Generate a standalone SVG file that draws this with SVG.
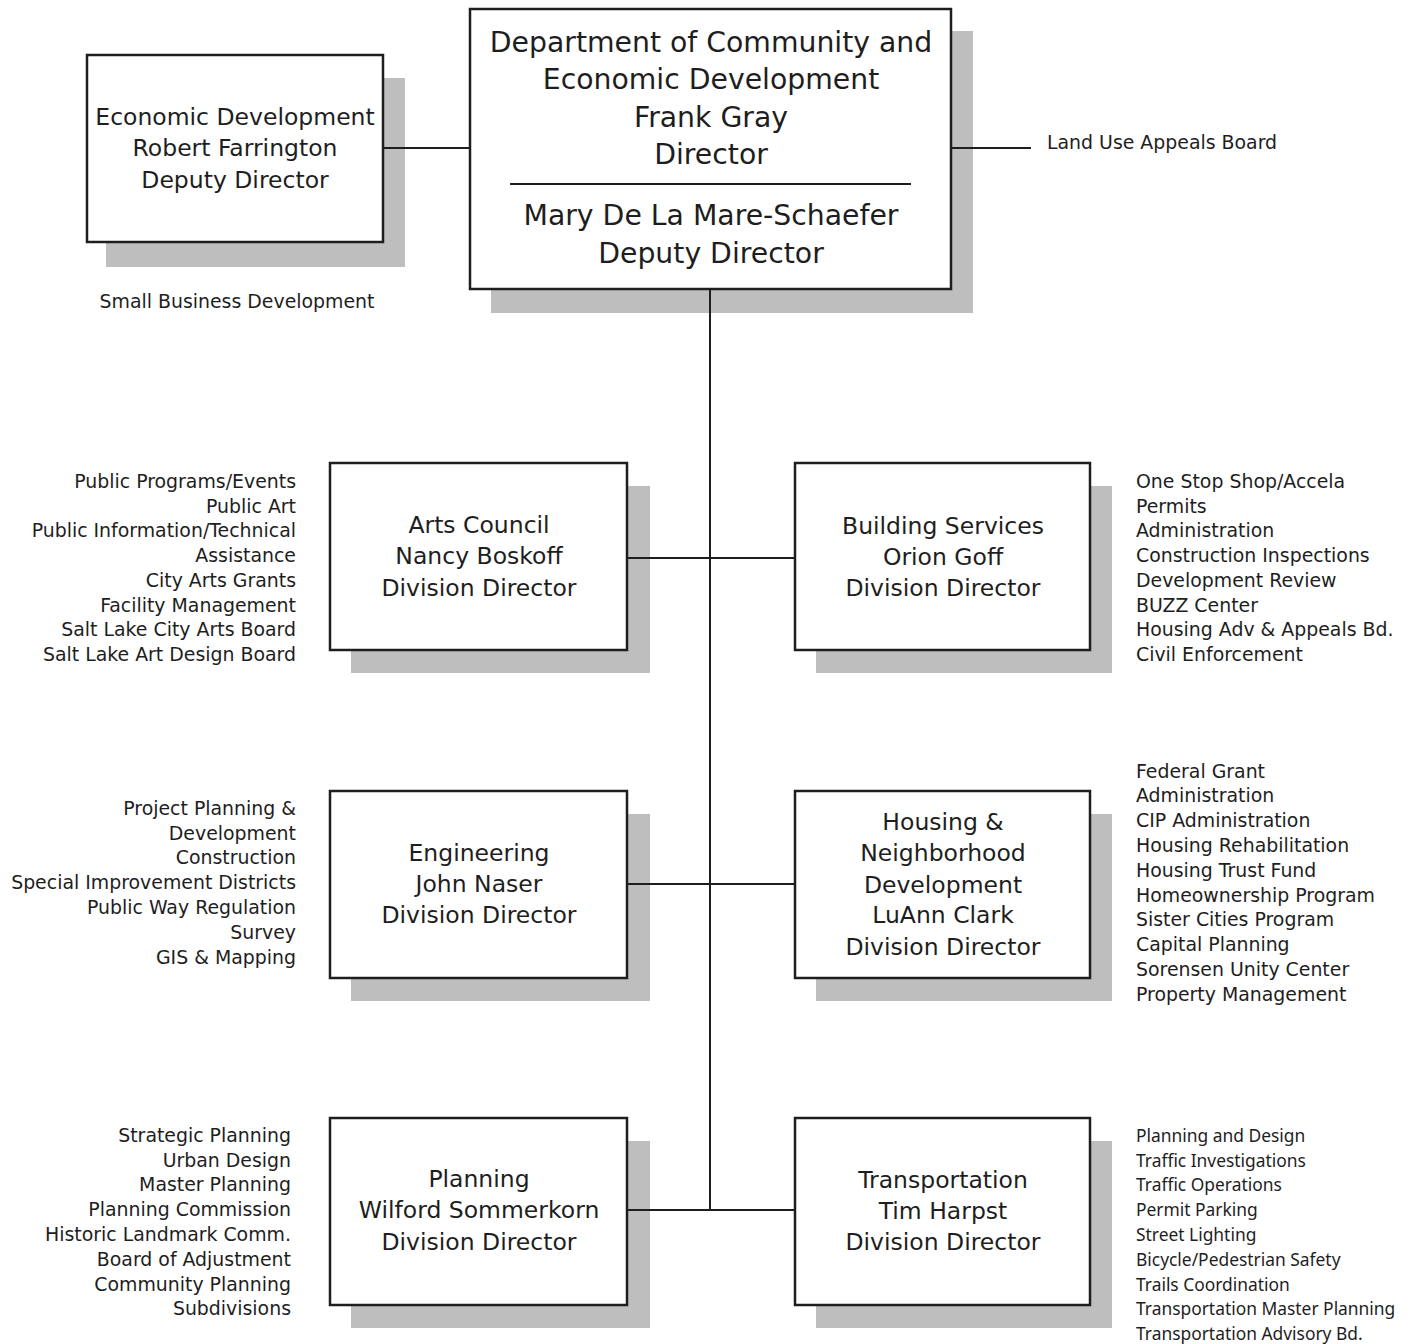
<svg xmlns="http://www.w3.org/2000/svg" width="1413" height="1344" viewBox="0 0 1413 1344">
  <style>
    .shadow { fill: #bebebe; }
    .box { fill: #ffffff; stroke: #1e1e1e; stroke-width: 2.5; }
    .link { stroke: #1e1e1e; stroke-width: 2; fill: none; }
    .title { font-family: "DejaVu Sans", Verdana, sans-serif; font-size: 23.5px; fill: #1e1e1e; text-anchor: middle; }
    .big { font-size: 28.3px; }
    .item { font-family: "DejaVu Sans", Verdana, sans-serif; font-size: 18.9px; fill: #1e1e1e; }
    .narrow { font-family: "Noto Sans", "DejaVu Sans", sans-serif; font-size: 17.4px; }
    .r { text-anchor: end; }
  </style>
  <rect width="1413" height="1344" fill="#ffffff"/>

  <!-- department head -->
  <g id="director">
    <rect class="shadow" x="491" y="31" width="482" height="282"/>
    <rect class="box" x="470" y="9" width="481" height="280"/>
    <line class="link" x1="510" y1="184" x2="911" y2="184" stroke-width="1.5"/>
    <text class="title big" x="711" y="52">Department of Community and</text>
    <text class="title big" x="711" y="89">Economic Development</text>
    <text class="title big" x="711" y="127">Frank Gray</text>
    <text class="title big" x="711" y="164">Director</text>
    <text class="title big" x="711" y="225">Mary De La Mare-Schaefer</text>
    <text class="title big" x="711" y="263">Deputy Director</text>
  </g>

  <!-- economic development -->
  <g id="economic-development">
    <rect class="shadow" x="106" y="78" width="299" height="189"/>
    <rect class="box" x="87" y="55" width="296" height="187"/>
    <text class="title" x="235" y="125">Economic Development</text>
    <text class="title" x="235" y="156">Robert Farrington</text>
    <text class="title" x="235" y="188">Deputy Director</text>
    <text class="item" x="237" y="308" text-anchor="middle">Small Business Development</text>
  </g>

  <g id="land-use-appeals">
    <text class="item" x="1047" y="149">Land Use Appeals Board</text>
  </g>

  <!-- arts council -->
  <g id="arts-council">
    <rect class="shadow" x="351" y="486" width="299" height="187"/>
    <rect class="box" x="330" y="463" width="297" height="187"/>
    <text class="title" x="479" y="533">Arts Council</text>
    <text class="title" x="479" y="564">Nancy Boskoff</text>
    <text class="title" x="479" y="596">Division Director</text>
    <g class="item r">
      <text x="296" y="488">Public Programs/Events</text>
      <text x="296" y="513">Public Art</text>
      <text x="296" y="537">Public Information/Technical</text>
      <text x="296" y="562">Assistance</text>
      <text x="296" y="587">City Arts Grants</text>
      <text x="296" y="612">Facility Management</text>
      <text x="296" y="636">Salt Lake City Arts Board</text>
      <text x="296" y="661">Salt Lake Art Design Board</text>
    </g>
  </g>

  <!-- building services -->
  <g id="building-services">
    <rect class="shadow" x="816" y="486" width="296" height="187"/>
    <rect class="box" x="795" y="463" width="295" height="187"/>
    <text class="title" x="943" y="534">Building Services</text>
    <text class="title" x="943" y="565">Orion Goff</text>
    <text class="title" x="943" y="596">Division Director</text>
    <g class="item">
      <text x="1136" y="488">One Stop Shop/Accela</text>
      <text x="1136" y="513">Permits</text>
      <text x="1136" y="537">Administration</text>
      <text x="1136" y="562">Construction Inspections</text>
      <text x="1136" y="587">Development Review</text>
      <text x="1136" y="612">BUZZ Center</text>
      <text x="1136" y="636">Housing Adv &amp; Appeals Bd.</text>
      <text x="1136" y="661">Civil Enforcement</text>
    </g>
  </g>

  <!-- engineering -->
  <g id="engineering">
    <rect class="shadow" x="351" y="814" width="299" height="187"/>
    <rect class="box" x="330" y="791" width="297" height="187"/>
    <text class="title" x="479" y="861">Engineering</text>
    <text class="title" x="479" y="892">John Naser</text>
    <text class="title" x="479" y="923">Division Director</text>
    <g class="item r">
      <text x="296" y="815">Project Planning &amp;</text>
      <text x="296" y="840">Development</text>
      <text x="296" y="864">Construction</text>
      <text x="296" y="889">Special Improvement Districts</text>
      <text x="296" y="914">Public Way Regulation</text>
      <text x="296" y="939">Survey</text>
      <text x="296" y="964">GIS &amp; Mapping</text>
    </g>
  </g>

  <!-- housing and neighborhood development -->
  <g id="housing">
    <rect class="shadow" x="816" y="814" width="296" height="187"/>
    <rect class="box" x="795" y="791" width="295" height="187"/>
    <text class="title" x="943" y="830">Housing &amp;</text>
    <text class="title" x="943" y="861">Neighborhood</text>
    <text class="title" x="943" y="893">Development</text>
    <text class="title" x="943" y="923">LuAnn Clark</text>
    <text class="title" x="943" y="955">Division Director</text>
    <g class="item">
      <text x="1136" y="778">Federal Grant</text>
      <text x="1136" y="802">Administration</text>
      <text x="1136" y="827">CIP Administration</text>
      <text x="1136" y="852">Housing Rehabilitation</text>
      <text x="1136" y="877">Housing Trust Fund</text>
      <text x="1136" y="902">Homeownership Program</text>
      <text x="1136" y="926">Sister Cities Program</text>
      <text x="1136" y="951">Capital Planning</text>
      <text x="1136" y="976">Sorensen Unity Center</text>
      <text x="1136" y="1001">Property Management</text>
    </g>
  </g>

  <!-- planning -->
  <g id="planning">
    <rect class="shadow" x="351" y="1141" width="299" height="187"/>
    <rect class="box" x="330" y="1118" width="297" height="187"/>
    <text class="title" x="479" y="1187">Planning</text>
    <text class="title" x="479" y="1218">Wilford Sommerkorn</text>
    <text class="title" x="479" y="1250">Division Director</text>
    <g class="item r">
      <text x="291" y="1142">Strategic Planning</text>
      <text x="291" y="1167">Urban Design</text>
      <text x="291" y="1191">Master Planning</text>
      <text x="291" y="1216">Planning Commission</text>
      <text x="291" y="1241">Historic Landmark Comm.</text>
      <text x="291" y="1266">Board of Adjustment</text>
      <text x="291" y="1291">Community Planning</text>
      <text x="291" y="1315">Subdivisions</text>
    </g>
  </g>

  <!-- transportation -->
  <g id="transportation">
    <rect class="shadow" x="816" y="1141" width="296" height="187"/>
    <rect class="box" x="795" y="1118" width="295" height="187"/>
    <text class="title" x="943" y="1188">Transportation</text>
    <text class="title" x="943" y="1219">Tim Harpst</text>
    <text class="title" x="943" y="1250">Division Director</text>
    <g class="item narrow">
      <text x="1136" y="1142">Planning and Design</text>
      <text x="1136" y="1167">Traffic Investigations</text>
      <text x="1136" y="1191">Traffic Operations</text>
      <text x="1136" y="1216">Permit Parking</text>
      <text x="1136" y="1241">Street Lighting</text>
      <text x="1136" y="1266">Bicycle/Pedestrian Safety</text>
      <text x="1136" y="1291">Trails Coordination</text>
      <text x="1136" y="1315">Transportation Master Planning</text>
      <text x="1136" y="1340">Transportation Advisory Bd.</text>
    </g>
  </g>

  <!-- connectors, drawn over the drop shadows -->
  <g id="connectors">
    <line class="link" x1="383" y1="148" x2="470" y2="148"/>
    <line class="link" x1="951" y1="148" x2="1031" y2="148"/>
    <line class="link" x1="710" y1="289" x2="710" y2="1210"/>
    <line class="link" x1="627" y1="558" x2="795" y2="558"/>
    <line class="link" x1="627" y1="884" x2="795" y2="884"/>
    <line class="link" x1="627" y1="1210" x2="795" y2="1210"/>
  </g>
</svg>
